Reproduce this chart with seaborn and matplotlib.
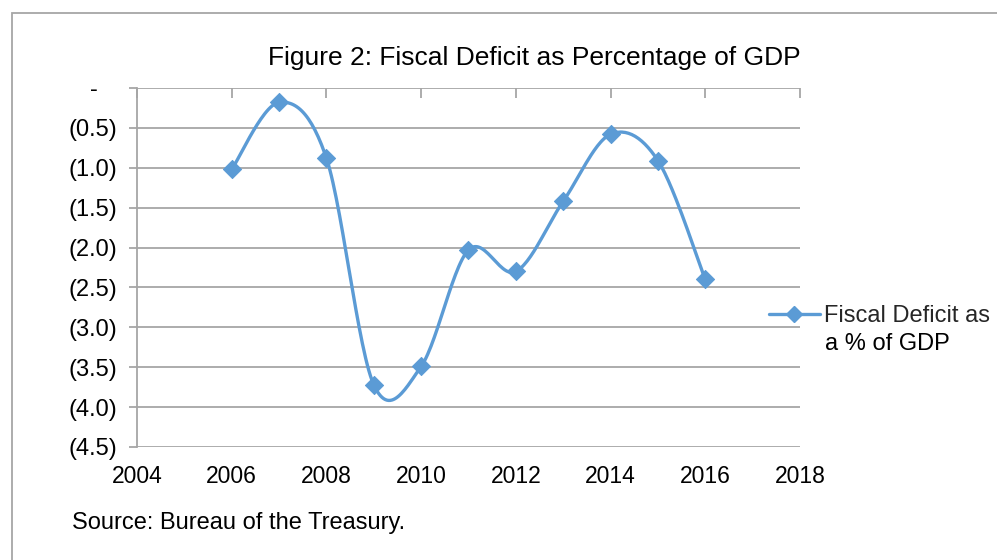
import numpy as np
import pandas as pd
import seaborn as sns
import matplotlib.pyplot as plt
from matplotlib.lines import Line2D
from matplotlib.patches import Rectangle
from matplotlib.ticker import FuncFormatter

# ---- data ----
years = [2006, 2007, 2008, 2009, 2010, 2011, 2012, 2013, 2014, 2015, 2016]
deficit = [-1.02, -0.18, -0.88, -3.72, -3.49, -2.03, -2.30, -1.42, -0.58, -0.91, -2.40]
y_ticks = [0, -0.5, -1.0, -1.5, -2.0, -2.5, -3.0, -3.5, -4.0, -4.5]
x_ticks = [2004, 2006, 2008, 2010, 2012, 2014, 2016, 2018]

BLUE = '#5B9BD5'
GRID = '#A6A6A6'


def smooth_curve(x, y, steps=30):
    # Excel style smoothed line: cubic bezier with Catmull-Rom control points
    x = np.asarray(x, float)
    y = np.asarray(y, float)
    pts = np.column_stack([x, y])
    out = []
    for i in range(len(pts) - 1):
        p0 = pts[max(i - 1, 0)]
        p1 = pts[i]
        p2 = pts[i + 1]
        p3 = pts[min(i + 2, len(pts) - 1)]
        c1 = p1 + (p2 - p0) / 6
        c2 = p2 - (p3 - p1) / 6
        t = np.linspace(0, 1, steps)[:, None]
        seg = ((1 - t) ** 3) * p1 + 3 * ((1 - t) ** 2) * t * c1 + 3 * (1 - t) * t ** 2 * c2 + t ** 3 * p2
        out.append(seg if i == 0 else seg[1:])
    seg = np.vstack(out)
    return pd.DataFrame({'year': seg[:, 0], 'value': seg[:, 1]})


def fmt_y(v, pos):
    # accounting style: zero shown as a dash, negatives in brackets
    if abs(v) < 1e-9:
        return '-   '
    return '({:.1f})'.format(abs(v))


sns.set_style('white')
plt.rcParams['font.family'] = ['Liberation Sans', 'DejaVu Sans']

df = pd.DataFrame({'year': years, 'value': deficit})
curve = smooth_curve(years, deficit)

fig = plt.figure(figsize=(9.97, 5.6), dpi=100)
ax = fig.add_axes([137 / 997, 1 - 447 / 560, (800 - 137) / 997, (447 - 88) / 560])

sns.lineplot(data=curve, x='year', y='value', sort=False, ax=ax, color=BLUE, linewidth=2.4)
sns.scatterplot(data=df, x='year', y='value', ax=ax, marker='D', s=85, color=BLUE,
                edgecolor=BLUE, zorder=5)

ax.set_xlim(2004, 2018)
ax.set_ylim(-4.5, 0)
ax.set_xticks(x_ticks)
ax.set_yticks(y_ticks)
ax.yaxis.set_major_formatter(FuncFormatter(fmt_y))
ax.set_xlabel('')
ax.set_ylabel('')

ax.grid(axis='y', color=GRID, linewidth=1.3)
ax.grid(axis='x', visible=False)
ax.set_axisbelow(True)
for s in ['top', 'right', 'bottom']:
    ax.spines[s].set_visible(False)
ax.spines['left'].set_color(GRID)
ax.spines['left'].set_linewidth(1.3)

ax.tick_params(axis='y', left=True, length=6, width=1.3, color=GRID, labelsize=17, labelcolor='black', pad=8)
ax.tick_params(axis='x', bottom=False, top=True, labelbottom=True, labeltop=False,
               direction='in', length=7, width=1.3, color=GRID, labelsize=16.5, labelcolor='black', pad=13)

fig.text(534 / 997, 1 - 58 / 560, 'Figure 2: Fiscal Deficit as Percentage of GDP',
         ha='center', va='center', fontsize=19, color='black')
fig.text(72 / 997, 1 - 523 / 560, 'Source: Bureau of the Treasury.',
         ha='left', va='center', fontsize=17, color='black')

# legend: marker line aligned with the first text line, second line below
handle = Line2D([0], [0], color=BLUE, linewidth=2.4, marker='D', markersize=8.5)
fig.legend([handle], ['Fiscal Deficit as'], loc='center left',
           bbox_to_anchor=(769 / 997, 1 - 316 / 560), frameon=False, fontsize=17,
           handlelength=2.15, handletextpad=0.2, borderpad=0, borderaxespad=0)
fig.text(825 / 997, 1 - 344 / 560, 'a % of GDP', ha='left', va='center', fontsize=17, color='black')

fig.add_artist(Rectangle((12 / 997, -0.1), 2, 1.1 - 13 / 560, transform=fig.transFigure,
                         fill=False, edgecolor='#A6A6A6', linewidth=1.3))

fig.savefig('out.png', dpi=100)
